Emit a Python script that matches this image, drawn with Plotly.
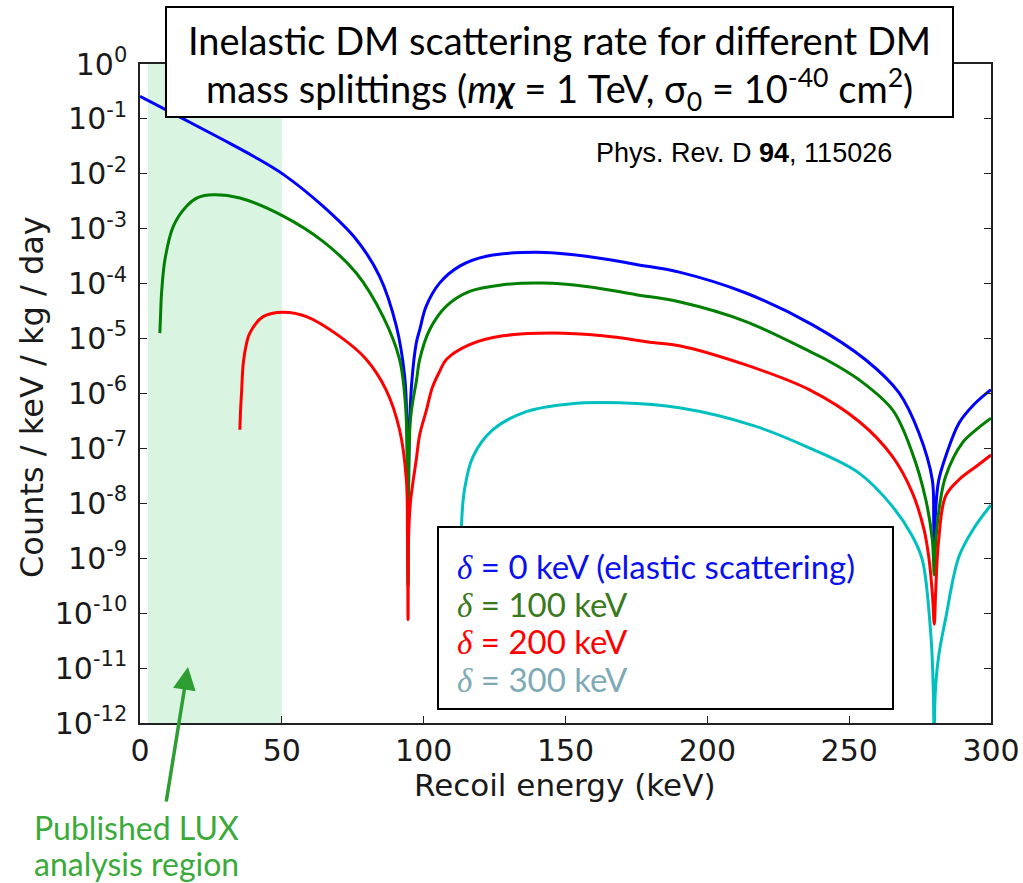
import plotly.graph_objects as go

# ---------------- data ----------------
# recoil energy (keV) and log10(counts / keV / kg / day) for each mass splitting
x_d0 = [0, 15.3, 29.3, 40, 50.5, 64.5, 76.3, 84.5, 90.4, 93.3, 94.1, 94.5, 94.9, 95.8, 97.4,
        98.6, 100.9, 105.6, 112.7, 122.1, 139.7, 157.3, 174.9, 190.1, 213.6, 237.1, 255.9,
        267.6, 274.6, 279.3, 279.8, 280.0, 280.3, 281.5, 284, 288.7, 294, 300]
log_d0 = [-0.59, -1.00, -1.38, -1.68, -2.01, -2.59, -3.20, -3.87, -4.78, -5.69, -6.6, -9.0, -6.8,
          -5.8, -5.08, -4.84, -4.41, -3.99, -3.68, -3.50, -3.43, -3.50, -3.65, -3.79, -4.17,
          -4.75, -5.39, -5.99, -6.72, -7.57, -8.3, -8.8, -8.3, -7.6, -7.15, -6.54, -6.2, -5.93]

x_d100 = [7.0, 7.3, 7.6, 8.8, 11.7, 16.4, 20.5, 25.8, 35.2, 50.5, 64.5, 76.3, 85.7, 91.5, 93.7,
          94.5, 95.3, 97.5, 98.6, 102.1, 108, 116.2, 127.9, 142, 157.3, 174.9, 190.1, 213.6,
          237.1, 241.8, 253.5, 265.3, 272.3, 277.0, 279.3, 280.0, 280.5, 282, 284, 289.9, 295, 300]
log_d100 = [-4.90, -4.50, -4.17, -3.56, -2.96, -2.59, -2.43, -2.38, -2.44, -2.77, -3.23, -3.81,
            -4.60, -5.38, -6.3, -9.5, -6.5, -5.75, -5.38, -4.84, -4.41, -4.14, -4.02, -3.99,
            -4.05, -4.20, -4.33, -4.69, -5.26, -5.38, -5.75, -6.30, -7.09, -7.93, -8.66, -9.3,
            -8.7, -8.0, -7.51, -6.90, -6.65, -6.45]

x_d200 = [35.2, 35.5, 35.8, 36.4, 37.5, 38.7, 43.4, 50.5, 58.7, 70.4, 79.8, 86.7, 91.5, 93.9,
          94.3, 94.5, 94.7, 95.3, 96.0, 97.4, 98.6, 101, 103, 105.6, 108, 116.2, 127.9, 145.5,
          163.1, 180.7, 190.1, 213.6, 235.9, 253.5, 265.3, 272.3, 276.4, 278.2, 279.4, 280.0,
          280.5, 281.5, 284, 288.7, 295, 300]
log_d200 = [-6.66, -6.25, -5.99, -5.45, -5.10, -4.90, -4.60, -4.52, -4.60, -4.96, -5.38, -5.93,
            -6.66, -7.57, -8.6, -10.12, -8.6, -8.0, -7.7, -7.2, -6.75, -6.3, -5.9, -5.6, -5.38,
            -5.11, -4.95, -4.90, -4.95, -5.07, -5.13, -5.48, -5.93, -6.51, -7.15, -7.81, -8.48,
            -9.03, -9.7, -10.2, -9.6, -8.7, -7.87, -7.57, -7.32, -7.12]

x_d300 = [112.9, 113.3, 114.4, 117.4, 124.4, 136.2, 151.4, 169, 190.1, 216, 235.9, 253.5,
          265.3, 272.3, 275.8, 278.8, 279.7, 280.0, 280.3, 281.5, 284, 288.7, 294, 300]
log_d300 = [-10.0, -8.42, -7.75, -7.15, -6.66, -6.33, -6.19, -6.17, -6.26, -6.58, -6.99, -7.45,
            -8.06, -8.60, -9.03, -10.4, -11.5, -13.0, -11.5, -10.8, -10.1, -8.97, -8.45, -8.03]

series_labels = ["δ = 0 keV (elastic scattering)", "δ = 100 keV", "δ = 200 keV", "δ = 300 keV"]
lux_region = [2.8, 50]  # keV
x_ticks = [0, 50, 100, 150, 200, 250, 300]
y_exponents = [0, -1, -2, -3, -4, -5, -6, -7, -8, -9, -10, -11, -12]

# ---------------- figure ----------------
W, H = 1023, 883
L, R, T, B = 140, 32, 64, 160
pw, ph = W - L - R, H - T - B


def px(xp):
    return (xp - L) / pw


def py(yp):
    return (H - B - yp) / ph


line_colors = ["#0000ff", "#007f00", "#ff0000", "#00bfbf"]
text_colors = ["#0a10f0", "#3a7a1c", "#ff0000", "#7eaab6"]

fig = go.Figure()
for xs, ls, c in zip([x_d0, x_d100, x_d200, x_d300], [log_d0, log_d100, log_d200, log_d300], line_colors):
    fig.add_trace(go.Scatter(x=xs, y=[10 ** v for v in ls], mode="lines",
                             line=dict(color=c, width=3, shape="spline", smoothing=1.0),
                             showlegend=False, hoverinfo="skip"))

shapes = [
    dict(type="rect", xref="x", yref="paper", x0=lux_region[0], x1=lux_region[1], y0=0, y1=1,
         fillcolor="#d9f5e1", line=dict(width=0), layer="below"),
    # title box
    dict(type="rect", xref="paper", yref="paper", x0=px(166), x1=px(953), y0=py(117), y1=py(7),
         fillcolor="white", line=dict(color="black", width=2), layer="above"),
    # legend box
    dict(type="rect", xref="paper", yref="paper", x0=px(438), x1=px(893), y0=py(709), y1=py(527),
         fillcolor="white", line=dict(color="black", width=2), layer="above"),
]

title_font = "Lato"
axis_title_font = dict(family="DejaVu Sans", size=31, color="#1a1a1a")
annotations = [
    dict(xref="paper", yref="paper", x=px(559), y=py(40), xanchor="center", yanchor="middle",
         text="Inelastic DM scattering rate for different DM", showarrow=False,
         font=dict(family=title_font, size=38, color="black")),
    dict(xref="paper", yref="paper", x=px(559), y=py(89), xanchor="center", yanchor="middle",
         text="mass splittings (<i>m</i><b><i>χ</i></b> = 1 TeV, σ<sub>0</sub> = 10<sup>-40</sup> cm<sup>2</sup>)",
         showarrow=False, font=dict(family=title_font, size=38, color="black")),
    dict(xref="paper", yref="paper", x=px(744), y=py(153), xanchor="center", yanchor="middle",
         text="Phys. Rev. D <b>94</b>, 115026", showarrow=False,
         font=dict(family="Liberation Sans", size=27, color="black")),
    dict(xref="paper", yref="paper", x=px(32), y=py(827), xanchor="left", yanchor="middle",
         align="left", text="Published LUX", showarrow=False,
         font=dict(family=title_font, size=32, color="#3aaa3a")),
    dict(xref="paper", yref="paper", x=px(32), y=py(863), xanchor="left", yanchor="middle",
         align="left", text="analysis region", showarrow=False,
         font=dict(family=title_font, size=32, color="#3aaa3a")),
    dict(xref="x", yref="paper", x=(188 - L) / (pw / 300), y=py(667), ax=-22, ay=136,
         text="", showarrow=True, arrowhead=2, arrowsize=1.3, arrowwidth=3.5,
         arrowcolor="#2e9e33", standoff=0),
    # axis titles
    dict(xref="paper", yref="paper", x=px(565), y=py(785), xanchor="center", yanchor="middle",
         text="Recoil energy (keV)", showarrow=False, font=axis_title_font),
    dict(xref="paper", yref="paper", x=px(32), y=py(397), xanchor="center", yanchor="middle",
         text="Counts / keV / kg / day", showarrow=False, textangle=-90,
         font=dict(family="DejaVu Sans", size=32, color="#1a1a1a")),
]
for i, (lab, col) in enumerate(zip(series_labels, text_colors)):
    delta, rest = lab.split(" ", 1)
    annotations.append(dict(
        xref="paper", yref="paper", x=px(455), y=py([566, 604, 641, 679][i]),
        xanchor="left", yanchor="middle", showarrow=False,
        text="<span style='font-family:Liberation Serif'><i>" + delta + "</i></span> " + rest,
        font=dict(family=title_font, size=33, color=col)))

axis_common = dict(showline=True, linecolor="#222", linewidth=1.5, mirror="allticks",
                   ticks="inside", ticklen=7, tickwidth=1.2, tickcolor="#222", showgrid=False,
                   zeroline=False, tickfont=dict(family="DejaVu Sans", size=30, color="#1a1a1a"))

fig.update_layout(
    width=W, height=H, margin=dict(l=L, r=R, t=T, b=B, autoexpand=False),
    paper_bgcolor="white", plot_bgcolor="white", showlegend=False,
    shapes=shapes, annotations=annotations,
    xaxis=dict(range=[0, 300], tickvals=x_ticks, ticktext=[str(v) for v in x_ticks],
               ticklabelstandoff=0, **axis_common),
    yaxis=dict(type="log", range=[-12, 0], tickvals=[10.0 ** e for e in y_exponents],
               ticktext=["10<sup>%d</sup>" % e for e in y_exponents],
               ticklabelstandoff=5, **axis_common),
)

fig.write_html("out.html")
